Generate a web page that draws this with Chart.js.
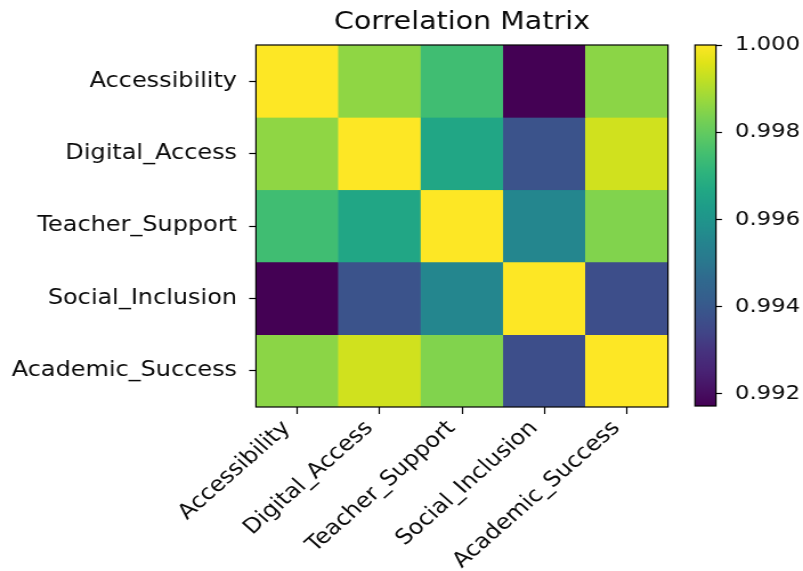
<!DOCTYPE html>
<html>
<head>
<meta charset="utf-8">
<script src="https://cdn.jsdelivr.net/npm/chart.js@4/dist/chart.umd.min.js"></script>
<style>
  html, body { margin: 0; padding: 0; background: #ffffff; overflow: hidden; }
  #wrap { position: relative; width: 803px; height: 571px; }
  /* the figure is drawn at a 1.14 horizontal scale: canvases are widened by CSS */
  #heat { position: absolute; left: 0; top: 0; width: 803px; height: 571px; }
  #cbar { position: absolute; left: 680px; top: 0; width: 123.2px; height: 571px; }
</style>
</head>
<body>
<div id="wrap">
  <canvas id="heat" width="704" height="571" style="width:803px;height:571px"></canvas>
  <canvas id="cbar" width="108" height="571" style="width:123.2px;height:571px"></canvas>
</div>
<script>
// Variables of the correlation matrix (rows and columns share the same order)
const categories = ['Accessibility', 'Digital_Access', 'Teacher_Support', 'Social_Inclusion', 'Academic_Success'];

// One row of the correlation matrix per variable
const corrAccessibility   = [1.00000, 0.99861, 0.99743, 0.99172, 0.99856];
const corrDigitalAccess   = [0.99861, 1.00000, 0.99663, 0.99382, 0.99940];
const corrTeacherSupport  = [0.99743, 0.99663, 1.00000, 0.99552, 0.99843];
const corrSocialInclusion = [0.99172, 0.99382, 0.99552, 1.00000, 0.99368];
const corrAcademicSuccess = [0.99856, 0.99940, 0.99843, 0.99368, 1.00000];

// Colour bar tick values
const colorbarTicks = [0.992, 0.994, 0.996, 0.998, 1.000];

const rows = [corrAccessibility, corrDigitalAccess, corrTeacherSupport, corrSocialInclusion, corrAcademicSuccess];
const allValues = rows.flat();
const vmin = Math.min(...allValues);
const vmax = Math.max(...allValues);

// Viridis colour map, sampled every 0.05
const viridisStops = [
  '#440154', '#471365', '#482475', '#46327e', '#414487', '#3b528b', '#355f8d',
  '#30698e', '#2a788e', '#25838e', '#21918c', '#1e9c89', '#22a884', '#2fb47c',
  '#44bf70', '#5ec962', '#7ad151', '#9bd93c', '#bddf26', '#dfe318', '#fde725'
];
function hexToRgb(h) {
  return [parseInt(h.slice(1, 3), 16), parseInt(h.slice(3, 5), 16), parseInt(h.slice(5, 7), 16)];
}
const viridisRgb = viridisStops.map(hexToRgb);
function viridis(t) {
  t = Math.max(0, Math.min(1, t));
  const pos = t * (viridisRgb.length - 1);
  const i = Math.min(Math.floor(pos), viridisRgb.length - 2);
  const f = pos - i;
  const a = viridisRgb[i], b = viridisRgb[i + 1];
  const c = a.map((v, k) => Math.round(v + (b[k] - v) * f));
  return 'rgb(' + c.join(',') + ')';
}
function norm(v) { return (v - vmin) / (vmax - vmin); }

const FONT_FAMILY = '"DejaVu Sans", "Liberation Sans", sans-serif';
const TEXT_COLOR = '#0a0a0a';
const TICK_FONT = { family: FONT_FAMILY, size: 21 };

// Black frame around the plotting area
const framePlugin = {
  id: 'frame',
  afterDraw(chart) {
    const { ctx, chartArea: ca } = chart;
    ctx.save();
    ctx.strokeStyle = '#000000';
    ctx.lineWidth = 1.2;
    ctx.strokeRect(ca.left, ca.top, ca.right - ca.left, ca.bottom - ca.top);
    ctx.restore();
  }
};

// Heat map: each row is a dataset of floating bars spanning one row band
const heatDatasets = rows.map((row, r) => ({
  label: categories[r],
  data: row.map(() => [r - 0.5, r + 0.5]),
  backgroundColor: row.map(v => viridis(norm(v))),
  borderColor: row.map(v => viridis(norm(v))),
  borderWidth: 0.5,
  borderSkipped: false,
  grouped: false,
  barPercentage: 1,
  categoryPercentage: 1
}));

function tickGrid(len) {
  return {
    display: true,
    drawOnChartArea: false,
    drawTicks: true,
    tickLength: len,
    tickColor: '#000000',
    tickWidth: 1.2
  };
}

new Chart(document.getElementById('heat'), {
  type: 'bar',
  data: { labels: categories, datasets: heatDatasets },
  plugins: [framePlugin],
  options: {
    responsive: false,
    devicePixelRatio: 1,
    animation: false,
    layout: { padding: { left: 0, right: 118.4, top: 0, bottom: 0 } },
    plugins: {
      legend: { display: false },
      tooltip: { enabled: false },
      title: {
        display: true,
        text: 'Correlation Matrix',
        fullSize: false,
        color: TEXT_COLOR,
        font: { family: FONT_FAMILY, size: 25, weight: 'normal' },
        padding: { top: 7, bottom: 8 }
      }
    },
    scales: {
      x: {
        type: 'category',
        offset: true,
        grid: Object.assign({ offset: false }, tickGrid(7)),
        border: { display: false },
        ticks: {
          autoSkip: false,
          maxRotation: 45,
          minRotation: 45,
          padding: 2,
          labelOffset: -9,
          color: TEXT_COLOR,
          font: TICK_FONT
        },
        afterFit(scale) { scale.height = 164; }
      },
      y: {
        type: 'linear',
        reverse: true,
        min: -0.5,
        max: 4.5,
        afterBuildTicks(scale) { scale.ticks = categories.map((_, i) => ({ value: i })); },
        grid: tickGrid(6),
        border: { display: false },
        ticks: {
          padding: 10.6,
          color: TEXT_COLOR,
          font: TICK_FONT,
          callback: v => categories[v]
        },
        afterFit(scale) { scale.width = 224.4; }
      }
    }
  }
});

// Colour bar: one floating bar from vmin to vmax filled with the colour map
new Chart(document.getElementById('cbar'), {
  type: 'bar',
  data: {
    labels: [''],
    datasets: [{
      data: [[vmin, vmax]],
      backgroundColor(ctx) {
        const ca = ctx.chart.chartArea;
        if (!ca) return viridis(0.5);
        const g = ctx.chart.ctx.createLinearGradient(0, ca.bottom, 0, ca.top);
        viridisStops.forEach((c, i) => g.addColorStop(i / (viridisStops.length - 1), c));
        return g;
      },
      borderWidth: 0,
      barPercentage: 1,
      categoryPercentage: 1
    }]
  },
  plugins: [framePlugin],
  options: {
    responsive: false,
    devicePixelRatio: 1,
    animation: false,
    layout: { padding: { left: 13.15, right: 0, top: 45, bottom: 165 } },
    plugins: { legend: { display: false }, tooltip: { enabled: false } },
    scales: {
      x: { display: false },
      y: {
        position: 'right',
        min: vmin,
        max: vmax,
        afterBuildTicks(scale) { scale.ticks = colorbarTicks.map(v => ({ value: v })); },
        grid: tickGrid(5.3),
        border: { display: false },
        ticks: {
          padding: 11.4,
          color: TEXT_COLOR,
          font: { family: FONT_FAMILY, size: 20 },
          callback: v => Number(v).toFixed(3)
        },
        afterFit(scale) { scale.width = 76.44; }
      }
    }
  }
});
</script>
</body>
</html>
